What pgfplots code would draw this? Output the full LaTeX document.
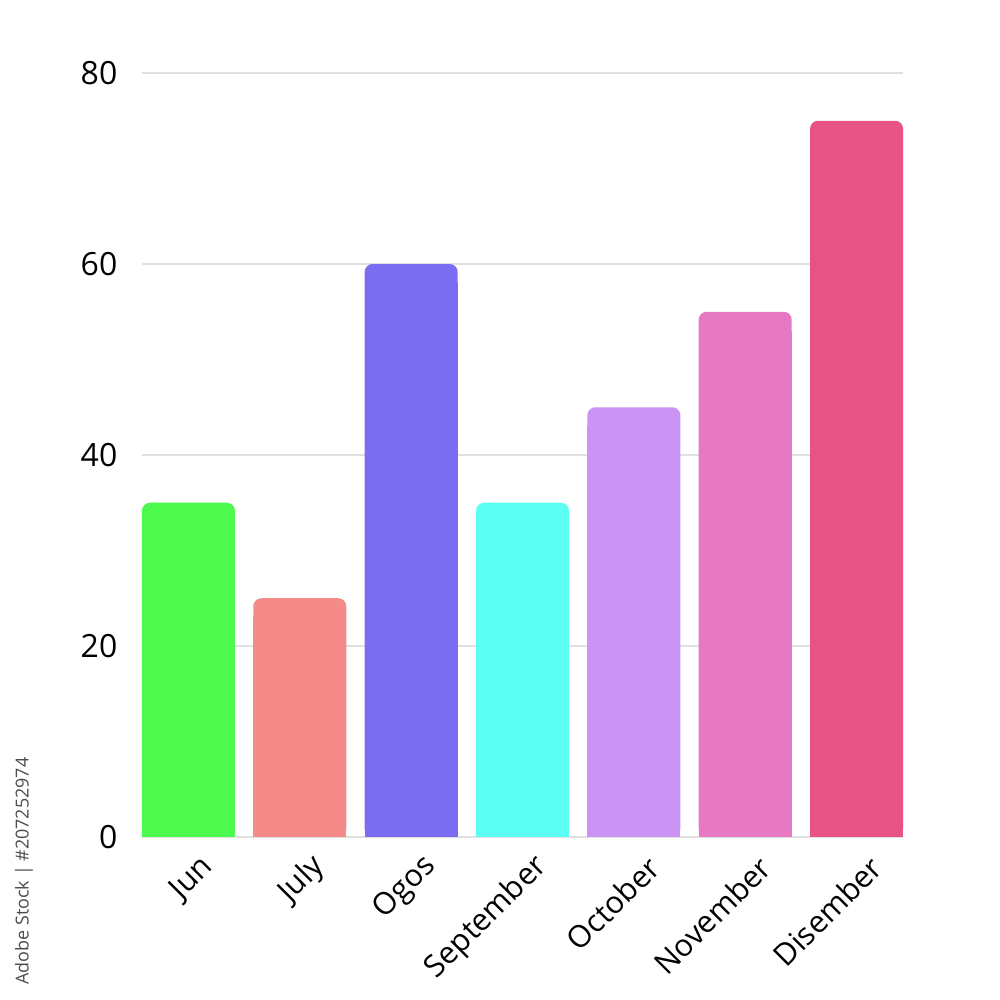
\documentclass[border=0pt]{standalone}
\usepackage{pgfplots}
\pgfplotsset{compat=1.18}
\usepackage{fontspec}
\setmainfont{Open Sans}
\definecolor{cJun}{HTML}{4CF94C}
\definecolor{cJul}{HTML}{F48B89}
\definecolor{cOgo}{HTML}{7A6DF2}
\definecolor{cSep}{HTML}{5CFFF4}
\definecolor{cOct}{HTML}{CA93F4}
\definecolor{cNov}{HTML}{E778C2}
\definecolor{cDis}{HTML}{E85385}
\begin{document}
\begin{tikzpicture}
\path[fill=white,use as bounding box] (0,0) rectangle (10cm,10cm);
\begin{axis}[
  at={(1.42cm,1.63cm)}, anchor=south west,
  scale only axis, width=7.61cm, height=7.64cm,
  xmin=-0.417, xmax=6.417, ymin=0, ymax=80,
  axis line style={draw=none},
  ytick={0,20,40,60,80},
  xtick={0,1,2,3,4,5,6},
  xticklabels={Jun,July,Ogos,September,October,November,Disember},
  major tick length=0pt,
  ymajorgrids, grid style={draw=black!12, line width=0.5pt},
  yticklabel style={anchor=east, inner sep=0pt, xshift=-0.24cm, font=\fontsize{9.1pt}{10pt}\selectfont},
  xticklabel style={rotate=45, anchor=east, inner sep=0pt, xshift=-0.03cm, yshift=-0.32cm, font=\fontsize{8.7pt}{10pt}\selectfont},
  /pgf/number format/assume math mode=true,
  ybar, bar width=0.93cm, bar shift=0pt,
  clip=false,
]
\addplot[fill=cJun, draw=none, rounded corners=0.08cm] coordinates {(0,35)};
\addplot[fill=cJun, draw=none] coordinates {(0,33)};
\addplot[fill=cJul, draw=none, rounded corners=0.08cm] coordinates {(1,25)};
\addplot[fill=cJul, draw=none] coordinates {(1,23)};
\addplot[fill=cOgo, draw=none, rounded corners=0.08cm] coordinates {(2,60)};
\addplot[fill=cOgo, draw=none] coordinates {(2,58)};
\addplot[fill=cSep, draw=none, rounded corners=0.08cm] coordinates {(3,35)};
\addplot[fill=cSep, draw=none] coordinates {(3,33)};
\addplot[fill=cOct, draw=none, rounded corners=0.08cm] coordinates {(4,45)};
\addplot[fill=cOct, draw=none] coordinates {(4,43)};
\addplot[fill=cNov, draw=none, rounded corners=0.08cm] coordinates {(5,55)};
\addplot[fill=cNov, draw=none] coordinates {(5,53)};
\addplot[fill=cDis, draw=none, rounded corners=0.08cm] coordinates {(6,75)};
\addplot[fill=cDis, draw=none] coordinates {(6,73)};
\end{axis}
\node[rotate=90, text=black!70, font=\fontsize{5.1pt}{6pt}\selectfont, inner sep=0pt] at (0.24cm,1.29cm) {Adobe Stock | \#207252974};
\end{tikzpicture}
\end{document}
